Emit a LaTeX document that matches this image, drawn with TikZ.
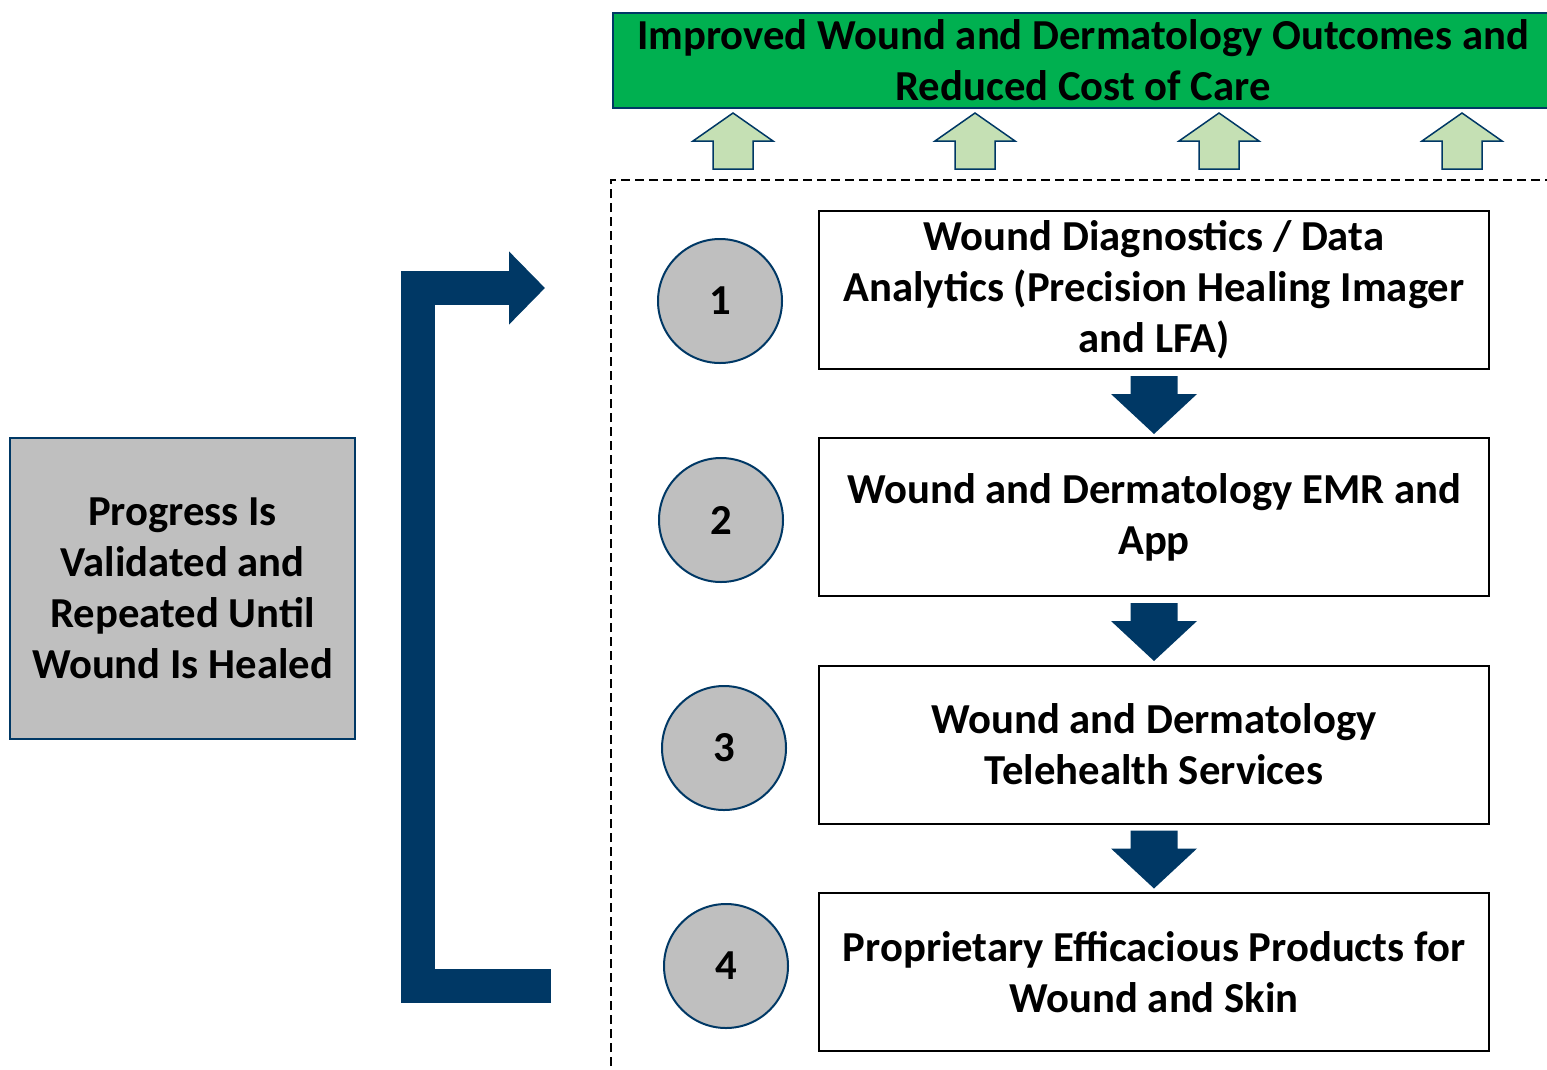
\documentclass[tikz,border=0pt]{standalone}
\usepackage{fontspec}
\setmainfont{Carlito}
\usetikzlibrary{arrows.meta}

\definecolor{navy}{RGB}{0,56,101}
\definecolor{goalgreen}{RGB}{0,176,80}
\definecolor{palegreen}{RGB}{197,224,180}
\definecolor{stepgray}{RGB}{191,191,191}

\tikzset{
  bigtext/.style={font=\bfseries\fontsize{42.7}{51}\selectfont},
  stepbox/.style={bigtext, draw=black, line width=2pt, fill=white,
    minimum width=670pt, minimum height=158pt, align=center},
  stepnum/.style={bigtext, circle, draw=navy, line width=2pt, fill=stepgray,
    minimum size=124pt, inner sep=0pt},
}

\begin{document}
\begin{tikzpicture}[x=1pt, y=-1pt]
    \useasboundingbox (0,0) rectangle (1547,1069);

    % Objetivo final
    \node[bigtext, draw=navy, line width=2pt, fill=goalgreen, minimum width=941pt,
      minimum height=95pt, align=center]
      (goal) at (1083,60) {Improved Wound and Dermatology Outcomes and\\Reduced Cost of Care};

    % Moldura pontilhada
    \draw[dashed, dash pattern=on 9pt off 5pt, line width=2pt] (611,1080) |- (1560,180);

    % Setas verdes
    \foreach \x in {733,975,1219,1462}
      \draw[navy, fill=palegreen, line width=1.5pt] (\x,113) -- ++(40,28) -- ++(-20,0)
        -- ++(0,28) -- ++(-40,0) -- ++(0,-28) -- ++(-20,0) -- cycle;

    % Etapas
    \node[stepbox] (s1) at (1154,290) {Wound Diagnostics / Data\\Analytics (Precision Healing Imager\\and LFA)};
    \node[stepbox] (s2) at (1154,517) {Wound and Dermatology EMR and\\App};
    \node[stepbox] (s3) at (1154,744.5) {Wound and Dermatology\\Telehealth Services};
    \node[stepbox] (s4) at (1154,972) {Proprietary Efficacious Products for\\Wound and Skin};

    % Numeros
    \node[stepnum] (n1) at (720,301) {1};
    \node[stepnum] (n2) at (721,520) {2};
    \node[stepnum] (n3) at (724,748) {3};
    \node[stepnum] (n4) at (726,966) {4};

    % Setas entre etapas
    \foreach \a/\b in {s1/s2, s2/s3, s3/s4}
      \fill[navy] (\a.south) ++(-23.5,6) -- ++(47,0) -- ++(0,18) -- ++(19.5,0)
        -- ++(-43,40) -- ++(-43,-40) -- ++(19.5,0) -- cycle;

    % Caixa de repeticao
    \node[bigtext, draw=navy, line width=2pt, fill=stepgray, minimum width=345pt,
      minimum height=301pt, align=center] (loop) at (182.5,588.5)
      {Progress Is\\Validated and\\Repeated Until\\Wound Is Healed};

    % Seta de retorno
    \coordinate (loopfoot) at (551,986);
    \coordinate (looptip) at (545,288);
    \draw[navy, line width=34pt, -{Triangle[length=36pt,width=71pt]}]
      (loopfoot) -| (418,288) -- (looptip);

\end{tikzpicture}
\end{document}
